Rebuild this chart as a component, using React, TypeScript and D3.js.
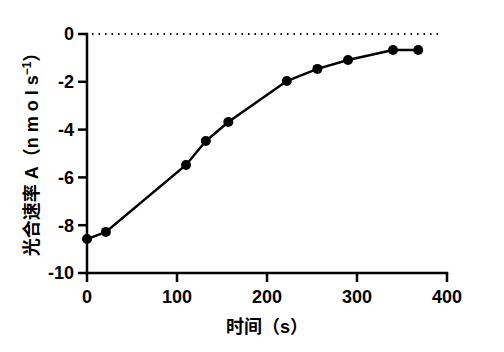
import React from "react";
import * as d3 from "d3";

// time (s) and photosynthetic rate A (nmol s-1)
const times = [0, 21, 110, 132, 157, 222, 256, 290, 340, 368];
const rates = [-8.58, -8.28, -5.48, -4.48, -3.68, -1.97, -1.46, -1.09, -0.67, -0.67];
const xTicks = [0, 100, 200, 300, 400];
const yTicks = [0, -2, -4, -6, -8, -10];

const FONT = "Liberation Sans, Arial, Noto Sans CJK SC, sans-serif";

export default function App() {
  const width = 504;
  const height = 352;
  const margin = { left: 87, top: 34, right: 57, bottom: 79 };

  const x = d3.scaleLinear().domain([0, 400]).range([margin.left, width - margin.right]);
  const y = d3.scaleLinear().domain([-10, 0]).range([height - margin.bottom, margin.top]);

  const line = d3
    .line<number>()
    .x((d, i) => x(times[i]))
    .y((d) => y(d));

  const x0 = x(0);
  const yb = y(-10);

  return (
    <svg width={width} height={height} style={{ display: "block", margin: "-8px" }} fontFamily={FONT} fontWeight="bold">
      {/* dotted zero line */}
      <line x1={x0 + 5} x2={x(395)} y1={y(0)} y2={y(0)} stroke="#000" strokeWidth={2} strokeDasharray="1.5,5" />

      {/* axes */}
      <line x1={x0} x2={x0} y1={y(0)} y2={yb} stroke="#000" strokeWidth={2.5} strokeLinecap="square" />
      <line x1={x0} x2={x(400)} y1={yb} y2={yb} stroke="#000" strokeWidth={2.5} strokeLinecap="square" />

      {xTicks.map((t) => (
        <g key={"x" + t}>
          <line x1={x(t)} x2={x(t)} y1={yb} y2={yb + 9} stroke="#000" strokeWidth={2.5} />
          <text x={x(t)} y={yb + 30} textAnchor="middle" fontSize={18} fill="#000">
            {String(t)}
          </text>
        </g>
      ))}
      {yTicks.map((t) => (
        <g key={"y" + t}>
          <line x1={x0 - 9} x2={x0} y1={y(t)} y2={y(t)} stroke="#000" strokeWidth={2.5} />
          <text x={x0 - 13} y={y(t)} dy="0.36em" textAnchor="end" fontSize={18} fill="#000">
            {String(t)}
          </text>
        </g>
      ))}

      {/* data */}
      <path d={line(rates) || ""} fill="none" stroke="#000" strokeWidth={2.5} />
      {rates.map((r, i) => (
        <circle key={i} cx={x(times[i])} cy={y(r)} r={5} fill="#000" />
      ))}

      {/* x label */}
      <text x={(x(0) + x(400)) / 2} y={333} textAnchor="middle" fontSize={18} fill="#000">
        时间（s）
      </text>

      {/* y label */}
      <text transform={`translate(38,150) rotate(-90)`} textAnchor="middle" fontSize={18} fill="#000">
        <tspan>光合速率 A（n m o l  s</tspan>
        <tspan dy={-7} fontSize={12}>−1</tspan>
        <tspan dy={7}>）</tspan>
      </text>
    </svg>
  );
}
